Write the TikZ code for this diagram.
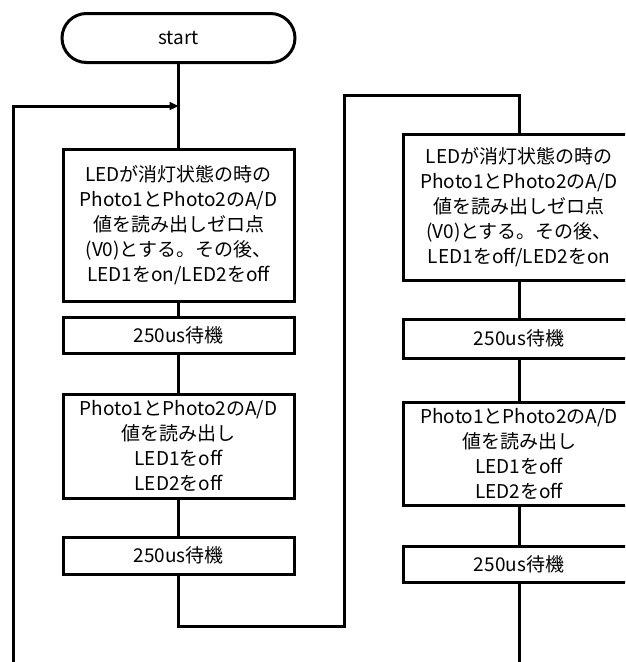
\documentclass[tikz,border=0pt]{standalone}
\usepackage{fontspec}
\setmainfont{Noto Sans CJK JP}
\usetikzlibrary{arrows.meta,shapes.misc}
\tikzset{
  line/.style={line width=3pt},
  procbox/.style={draw, line width=3pt, fill=white, minimum width=231pt, text width=228pt, align=center, inner sep=0pt, font=\fontsize{19}{25}\selectfont},
  termbox/.style={draw, line width=3pt, rounded rectangle, minimum width=233pt, minimum height=49pt, inner sep=0pt, font=\fontsize{19}{25}\selectfont},
  tip/.style={-{Triangle[length=9pt,width=8pt]}}
}
\begin{document}
\begin{tikzpicture}[x=1pt,y=-1pt]
\clip (0,0) rectangle (625,662);
\node[termbox] (start) at (178.5,38) {start};
\node[procbox, minimum height=152pt] (b1) at (178.5,225) {LEDが消灯状態の時の\\Photo1とPhoto2のA/D\\値を読み出しゼロ点\\(V0)とする。その後、\\LED1をon/LED2をoff};
\node[procbox, minimum height=36pt] (b2) at (178.5,335) {250us待機};
\node[procbox, minimum height=104pt] (b3) at (178.5,446) {Photo1とPhoto2のA/D\\値を読み出し\\LED1をoff\\LED2をoff};
\node[procbox, minimum height=37pt] (b4) at (178.5,555.5) {250us待機};

\node[procbox, minimum height=146pt] (r1) at (519,207) {LEDが消灯状態の時の\\Photo1とPhoto2のA/D\\値を読み出しゼロ点\\(V0)とする。その後、\\LED1をoff/LED2をon};
\node[procbox, minimum height=39pt] (r2) at (519,338.5) {250us待機};
\node[procbox, minimum height=103pt] (r3) at (519,453.5) {Photo1とPhoto2のA/D\\値を読み出し\\LED1をoff\\LED2をoff};
\node[procbox, minimum height=36pt] (r4) at (519,564) {250us待機};

\coordinate (j1) at (178.5,106);
\coordinate (lb) at (13,670);
\coordinate (lt) at (13,106);
\coordinate (m1) at (178.5,626);
\coordinate (m2) at (344,626);
\coordinate (m3) at (344,95);
\coordinate (m4) at (519,95);
\coordinate (rb) at (519,670);

\draw[line] (start.south) -- (b1.north);
\draw[line, tip] (lb) -- (lt) -- (j1);
\draw[line] (b1) -- (b2);
\draw[line] (b2) -- (b3);
\draw[line] (b3) -- (b4);
\draw[line] (b4.south) -- (m1) -- (m2) -- (m3) -- (m4) -- (r1.north);
\draw[line] (r1) -- (r2);
\draw[line] (r2) -- (r3);
\draw[line] (r3) -- (r4);
\draw[line] (r4.south) -- (rb);
\end{tikzpicture}
\end{document}
